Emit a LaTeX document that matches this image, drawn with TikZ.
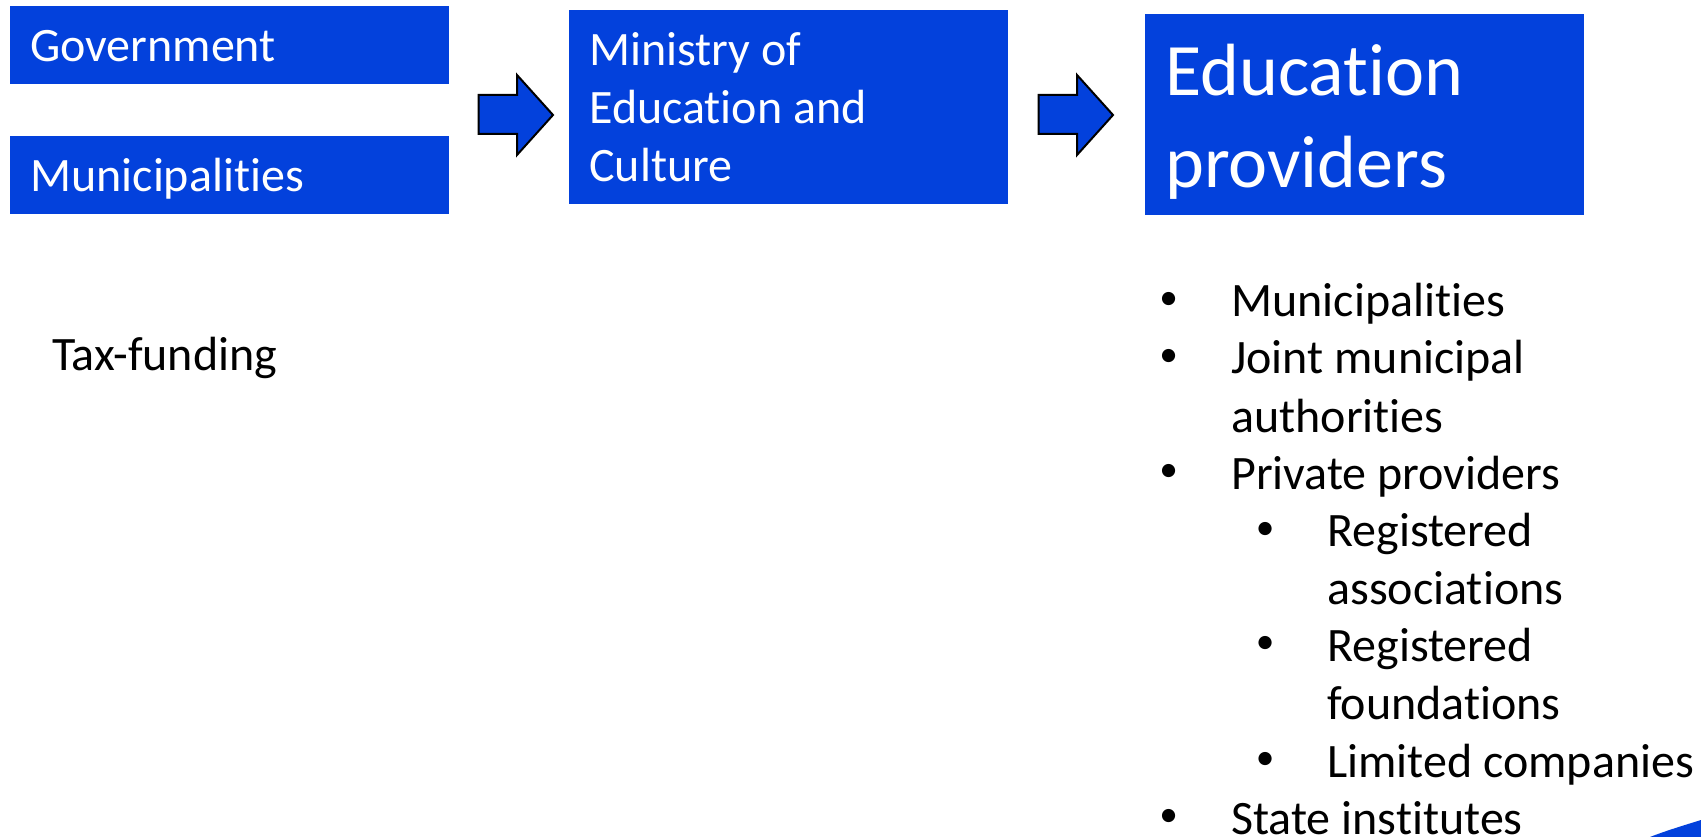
\documentclass[tikz,border=0pt]{standalone}
\usepackage{fontspec}
\setmainfont[Ligatures=NoCommon]{Carlito}
\definecolor{bluebox}{HTML}{0341DC}
\tikzset{
  x=0.75pt,y=-0.75pt,
  box/.style={rectangle,fill=bluebox,anchor=north west,inner ysep=0pt,inner xsep=0pt,
    minimum width=329.25pt,text width=329.25pt-2*15pt,align=flush left,text=white,
    font=\fontsize{36pt}{43.5pt}\selectfont,text height=30pt,text depth=6pt},
  bigbox/.style={box,font=\fontsize{55.5pt}{69pt}\selectfont},
  flow/.style={draw=black,line width=1.5pt,fill=bluebox,miter limit=10},
  txt/.style={anchor=base west,inner sep=0pt,font=\fontsize{36pt}{43.5pt}\selectfont,text=black},
  dot/.style={anchor=base west,inner sep=0pt,font=\fontsize{28pt}{28pt}\selectfont,text=black},
}
\begin{document}
\begin{tikzpicture}
\useasboundingbox (0,0) rectangle (1701,837);
\node[box,minimum height=58.5pt] (gov) at (10,6) {Government};
\node[box,minimum height=58.5pt] (mun) at (10,136) {Municipalities};
\node[box,minimum height=145.5pt,text height=10pt,text depth=73pt] (min) at (569,10) {Ministry of\\Education and\\Culture};
\node[bigbox,minimum height=150.75pt,text height=10pt,text depth=39pt] (edu) at (1145,14) {Education\\providers};
\draw[flow] (478.5,95) -- (517,95) -- (517,75) -- (553,115) -- (517,155) -- (517,134) -- (478.5,134) -- cycle;
\draw[flow] (1038.5,95) -- (1077,95) -- (1077,75) -- (1113,115) -- (1077,155) -- (1077,134) -- (1038.5,134) -- cycle;
\node[txt] (tax) at (52,371) {Tax-funding};
\node[dot] (b1) at (1159,309.5) {•};
\node[txt] (t1) at (1231,317) {Municipalities};
\node[dot] (b2) at (1159,366.5) {•};
\node[txt] (t2) at (1231,374) {Joint municipal};
\node[txt] (t2b) at (1231,432) {authorities};
\node[dot] (b3) at (1159,481.5) {•};
\node[txt] (t3) at (1231,489) {Private providers};
\node[dot] (b4) at (1255.5,539) {•};
\node[txt] (t4) at (1327,546.5) {Registered};
\node[txt] (t4b) at (1327,604) {associations};
\node[dot] (b5) at (1255.5,653.5) {•};
\node[txt] (t5) at (1327,661) {Registered};
\node[txt] (t5b) at (1327,719) {foundations};
\node[dot] (b6) at (1255.5,769.5) {•};
\node[txt] (t6) at (1327,777) {Limited companies};
\node[dot] (b7) at (1159,826.5) {•};
\node[txt] (t7) at (1231,834) {State institutes};
\fill[bluebox] (1650,837) .. controls (1665,831) and (1685,825) .. (1701,820) -- (1701,837) -- cycle;
\end{tikzpicture}
\end{document}
